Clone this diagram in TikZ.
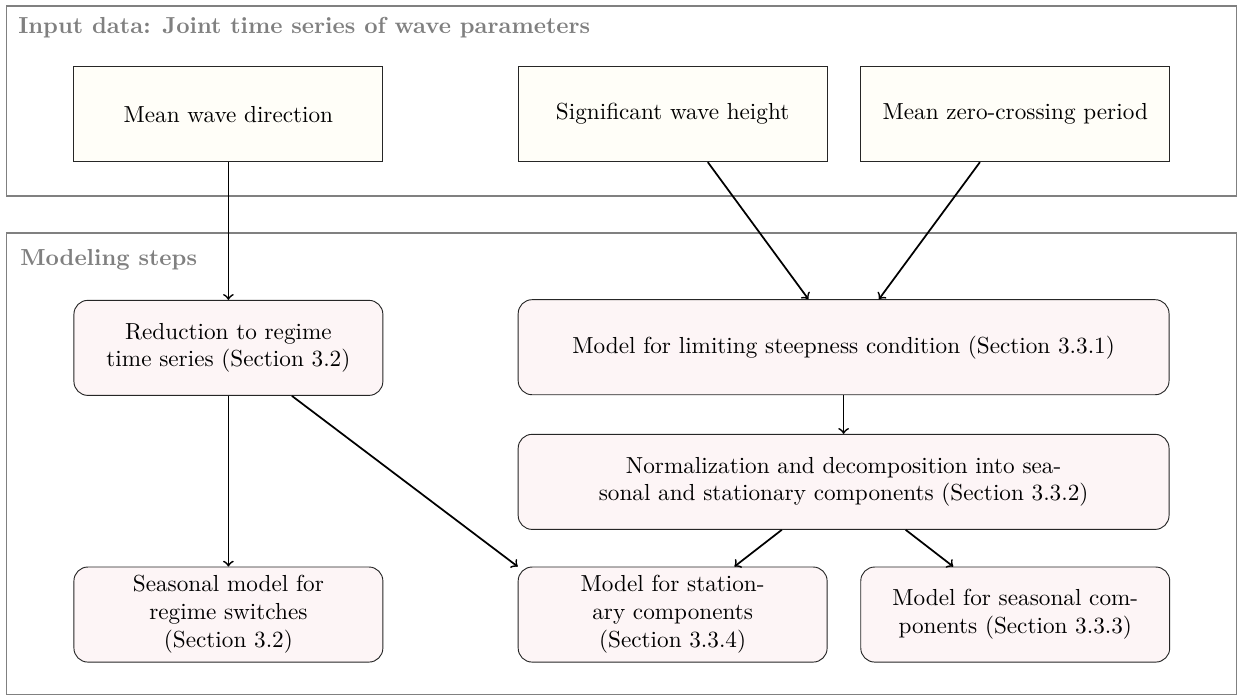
\documentclass[tikz,border=0pt]{standalone}
\usepackage{amsmath}
\usepackage{xcolor}
\usepackage{tikz}
\usetikzlibrary{positioning, calc, arrows}
\definecolor{inputfill}{rgb}{1.0, 0.996, 0.972}
\definecolor{modelfill}{rgb}{0.992, 0.961, 0.965}
\definecolor{framegray}{rgb}{0.5, 0.5, 0.5}

\begin{document}
\begin{tikzpicture}[
  inputbox/.style={draw=black!85, fill=inputfill, minimum width=\boxw cm, minimum height=\boxh cm, align=center, inner sep=2pt},
  modelbox/.style={draw=black!85, fill=modelfill, rounded corners=6pt, minimum width=\boxw cm, minimum height=\boxh cm, align=center, inner sep=2pt},
  groupframe/.style={draw=framegray, line width=0.75pt},
  grouptitle/.style={text=framegray, font=\bfseries, anchor=west, inner sep=0pt},
  flow/.style={->, line width=0.75pt, black}
]
\pgfmathsetmacro{\boxw}{4.68}
\pgfmathsetmacro{\boxh}{1.44}
\pgfmathsetmacro{\widew}{9.86}
\useasboundingbox (0,0) rectangle (18.77,-10.545);

% frames
\draw[groupframe] (0.098,-0.09) rectangle (18.73,-2.97);
\node[grouptitle] (inputtitle) at (0.27,-0.42) {Input data: Joint time series of wave parameters};
\draw[groupframe] (0.098,-3.53) rectangle (18.73,-10.52);
\node[grouptitle] (modeltitle) at (0.30,-3.93) {Modeling steps};

% input data
\node[inputbox] (mwd) at (3.46,-1.73) {Mean wave direction};
\node[inputbox] (swh) at (10.19,-1.73) {Significant wave height};
\node[inputbox] (mzc) at (15.38,-1.73) {Mean zero-crossing period};

% modeling steps
\node[modelbox] (regime) at (3.46,-5.27) {Reduction to regime\\time series (Section 3.2)};
\node[modelbox, minimum width=\widew cm] (steep) at (12.78,-5.26) {Model for limiting steepness condition (Section 3.3.1)};
\node[modelbox, minimum width=\widew cm] (norm) at (12.78,-7.30) {Normalization and decomposition into sea-\\sonal and stationary components (Section 3.3.2)};
\node[modelbox] (regsw) at (3.46,-9.31) {Seasonal model for\\regime switches\\(Section 3.2)};
\node[modelbox] (stat) at (10.19,-9.31) {Model for station-\\ary components\\(Section 3.3.4)};
\node[modelbox] (seas) at (15.38,-9.31) {Model for seasonal com-\\ponents (Section 3.3.3)};

% connectors
\draw[flow] (mwd) -- (regime);
\draw[flow] (swh) -- (steep);
\draw[flow] (mzc) -- (steep);
\draw[flow] (steep) -- (norm);
\draw[flow] (regime) -- (regsw);
\draw[flow] (regime) -- (stat.north west);
\draw[flow] (norm) -- (stat);
\draw[flow] (norm) -- (seas);

\end{tikzpicture}
\end{document}
